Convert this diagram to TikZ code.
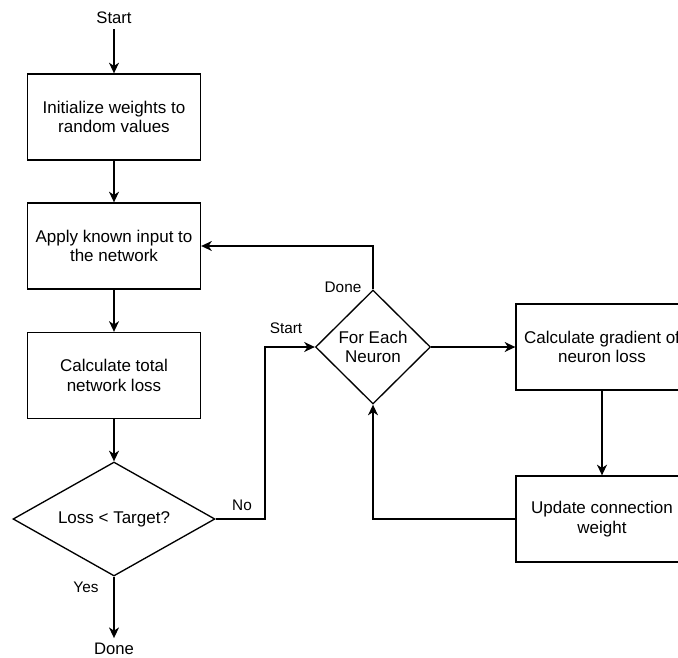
\documentclass[tikz,border=0pt]{standalone}
\usepackage{fontspec}
\setmainfont{Liberation Sans}
\usetikzlibrary{shapes.geometric,arrows.meta}

\begin{document}
\begin{tikzpicture}[x=0.75pt,y=-0.75pt]
\tikzstyle{every path}=[line width=1pt]

\edef\boxw{129.75pt}
\edef\boxh{64.5pt}
\tikzstyle{stepbox}=[draw,minimum width=\boxw,minimum height=\boxh,align=center,
  font=\fontsize{12.75}{14.5}\selectfont]
\tikzstyle{decide}=[draw,diamond,inner sep=0pt,align=center,
  font=\fontsize{12.75}{14.5}\selectfont]
\tikzstyle{term}=[font=\fontsize{12.5}{14.5}\selectfont]
\tikzstyle{tag}=[font=\fontsize{11.5}{13}\selectfont,inner sep=0pt]
\tikzstyle{flow}=[-{Stealth[length=8pt,width=7.5pt,inset=2.5pt]}]

\useasboundingbox (0,0) rectangle (678,657);

%% Draw main column
\begin{scope}
    \node [term] (start) at (114,18) {Start};
    \node [stepbox] (init) at (114,117) {Initialize weights to\\random values};
    \node [stepbox] (apply) at (114,246) {Apply known input to\\the network};
    \node [stepbox] (total) at (114,375.5) {Calculate total\\network loss};
    \node [decide,aspect=1.77,minimum width=151.5pt,minimum height=85.5pt] (check)
        at (114,519) {Loss < Target?};
    \node [term] (done) at (114,649) {Done};
\end{scope}

%% Draw neuron loop
\begin{scope}
    \node [decide,minimum width=86.25pt,minimum height=85.5pt] (each)
        at (373,347) {For Each\\Neuron};
    \node [stepbox,minimum width=129pt] (grad) at (602,347) {Calculate gradient of\\neuron loss};
    \node [stepbox,minimum width=129pt] (update) at (602,519) {Update connection\\weight};
\end{scope}

% Edge labels
\node [tag] (yes) at (86,587) {Yes};
\node [tag] (no) at (242,505) {No};
\node [tag] (go) at (286,328) {Start};
\node [tag] (fin) at (343,287) {Done};

%% Link everything
\draw[flow] (start) -- (init);
\draw[flow] (init) -- (apply);
\draw[flow] (apply) -- (total);
\draw[flow] (total) -- (check);
\draw[flow] (check) -- (done);

\coordinate (nobend) at (265,519);
\draw[flow] (check.east) -- (nobend) |- (each.west);
\draw[flow] (each.north) |- (apply.east);
\draw[flow] (each) -- (grad);
\draw[flow] (grad) -- (update);
\draw[flow] (update) -| (each.south);

\end{tikzpicture}
\end{document}
